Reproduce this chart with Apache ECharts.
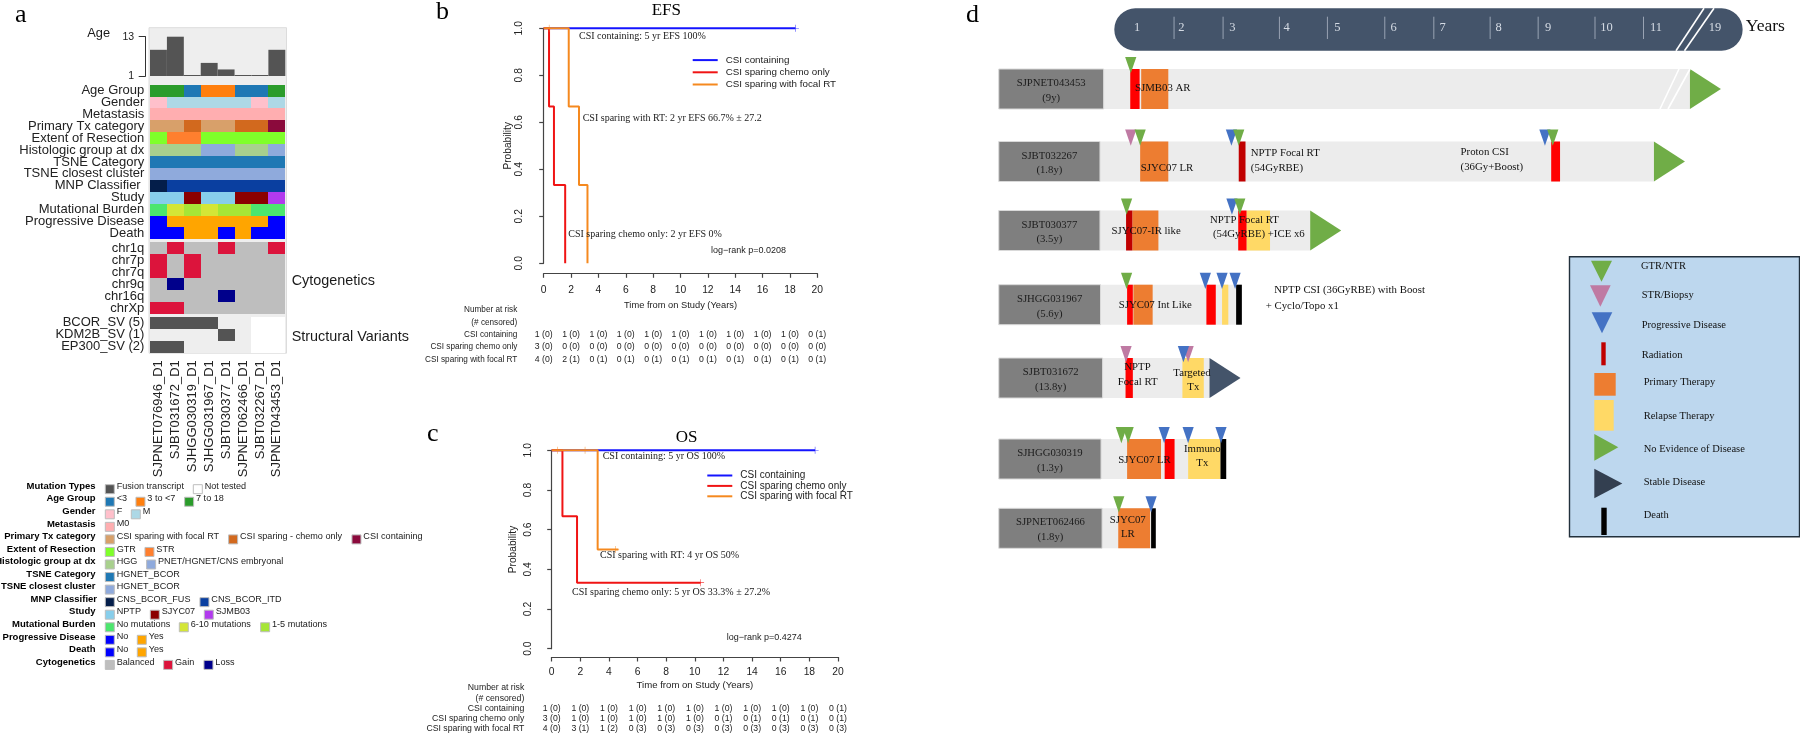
<!DOCTYPE html>
<html><head><meta charset="utf-8">
<style>html,body{margin:0;padding:0;background:#fff}#c{width:1800px;height:734px}</style>
<script src="https://cdn.jsdelivr.net/npm/echarts@6/dist/echarts.min.js"></script>
</head><body><div id="c"></div>
<script>
/* ---------- DATA : panel a ---------- */
const samples = ['SJPNET076946_D1','SJBT031672_D1','SJHGG030319_D1','SJHGG031967_D1','SJBT030377_D1','SJPNET062466_D1','SJBT032267_D1','SJPNET043453_D1'];
const ageValues = [9,13,1,5,3,1,1,9];
const clinicalRows = ['Age Group','Gender','Metastasis','Primary Tx category','Extent of Resection','Histologic group at dx','TSNE Category','TSNE closest cluster','MNP Classifier ','Study','Mutational Burden','Progressive Disease','Death'];
const ageGroup = ['7 to 18','7 to 18','<3','3 to <7','3 to <7','<3','<3','7 to 18'];
const gender = ['F','M','M','M','M','M','F','M'];
const metastasis = ['M0','M0','M0','M0','M0','M0','M0','M0'];
const primaryTx = ['CSI sparing with focal RT','CSI sparing with focal RT','CSI sparing - chemo only','CSI sparing with focal RT','CSI sparing with focal RT','CSI sparing - chemo only','CSI sparing - chemo only','CSI containing'];
const resection = ['GTR','STR','STR','GTR','GTR','GTR','GTR','GTR'];
const histology = ['HGG','HGG','HGG','PNET/HGNET/CNS embryonal','PNET/HGNET/CNS embryonal','HGG','HGG','PNET/HGNET/CNS embryonal'];
const tsneCategory = Array(8).fill('HGNET_BCOR');
const tsneCluster = Array(8).fill('HGNET_BCOR ');
const mnp = ['CNS_BCOR_FUS','CNS_BCOR_ITD','CNS_BCOR_ITD','CNS_BCOR_ITD','CNS_BCOR_ITD','CNS_BCOR_ITD','CNS_BCOR_ITD','CNS_BCOR_ITD'];
const study = ['NPTP','NPTP','SJYC07','NPTP','NPTP','SJYC07','SJYC07','SJMB03'];
const burden = ['No mutations','6-10 mutations','1-5 mutations','6-10 mutations','1-5 mutations','1-5 mutations','No mutations','No mutations'];
const progressive = ['No','Yes','Yes','Yes','Yes','Yes','Yes','No'];
const death = ['No','No','Yes','Yes','No','Yes','No','No'];
const cytoRows = ['chr1q','chr7p','chr7q','chr9q','chr16q','chrXp'];
const chr1q = ['B','G','B','B','G','B','B','G'];
const chr7p = ['G','B','G','B','B','B','B','B'];
const chr7q = ['G','B','G','B','B','B','B','B'];
const chr9q = ['B','L','B','B','B','B','B','B'];
const chr16q = ['B','B','B','B','L','B','B','B'];
const chrXp = ['G','G','B','B','B','B','B','B'];
const svRows = ['BCOR_SV (5)','KDM2B_SV (1)','EP300_SV (2)'];
const bcorSv = ['F','F','F','F','N','N','W','W'];
const kdm2bSv = ['N','N','N','N','F','N','W','W'];
const ep300Sv = ['F','F','N','N','N','N','W','W'];

/* ---------- DATA : panels b, c ---------- */
const seriesNames = ['CSI containing','CSI sparing chemo only','CSI sparing with focal RT'];
const efsContaining = [[0,1],[18.4,1]];
const efsChemo = [[0,1],[0.39,0.667],[0.75,0.333],[1.57,0]];
const efsFocal = [[0,1],[1.83,0.667],[2.58,0.333],[3.2,0]];
const efsCensorContaining = [[18.4,1]];
const efsCensorFocal = [[0.4,1]];
const osContaining = [[0,1],[18.4,1]];
const osChemo = [[0,1],[0.75,0.667],[1.77,0.333],[10.4,0.333]];
const osFocal = [[0,1],[3.21,0.5],[4.66,0.5]];
const osCensorContaining = [[18.4,1]];
const osCensorChemo = [[10.4,0.333]];
const osCensorFocal = [[0.4,1],[2.33,1],[4.47,0.5]];
const riskTicks = [0,2,4,6,8,10,12,14,16,18,20];
const riskRowNames = ['Number at risk','(# censored)','CSI containing','CSI sparing chemo only','CSI sparing with focal RT'];
const efsRisk = [
 ['1 (0)','1 (0)','1 (0)','1 (0)','1 (0)','1 (0)','1 (0)','1 (0)','1 (0)','1 (0)','0 (1)'],
 ['3 (0)','0 (0)','0 (0)','0 (0)','0 (0)','0 (0)','0 (0)','0 (0)','0 (0)','0 (0)','0 (0)'],
 ['4 (0)','2 (1)','0 (1)','0 (1)','0 (1)','0 (1)','0 (1)','0 (1)','0 (1)','0 (1)','0 (1)']];
const osRisk = [
 ['1 (0)','1 (0)','1 (0)','1 (0)','1 (0)','1 (0)','1 (0)','1 (0)','1 (0)','1 (0)','0 (1)'],
 ['3 (0)','1 (0)','1 (0)','1 (0)','1 (0)','1 (0)','0 (1)','0 (1)','0 (1)','0 (1)','0 (1)'],
 ['4 (0)','3 (1)','1 (2)','0 (3)','0 (3)','0 (3)','0 (3)','0 (3)','0 (3)','0 (3)','0 (3)']];

/* ---------- DATA : panel d (track index, years) ---------- */
const trackIds = ['SJPNET043453','SJBT032267','SJBT030377','SJHGG031967','SJBT031672','SJHGG030319','SJPNET062466'];
const trackAges = ['(9y)','(1.8y)','(3.5y)','(5.6y)','(13.8y)','(1.3y)','(1.8y)'];
const trackStarts = [-0.35,-0.42,-0.42,-0.41,-0.37,-0.40,-0.38];
const trackEnds = [10.89,10.20,3.61,2.30,1.68,2.00,0.65];
const primarySpans = [[0,0.37,0.89],[1,0.35,0.89],[2,0.20,0.70],[3,0.22,0.59],[5,0.10,0.75],[6,-0.07,0.54]];
const relapseSpans = [[2,2.39,2.84],[3,1.92,2.04],[4,1.16,1.57],[5,1.27,1.89]];
const radiationSpans = [[0,0.16,0.34],[1,8.23,8.40],[2,2.23,2.39],[3,0.10,0.21],[3,1.62,1.80],[4,0.07,0.21],[5,0.82,1.01]];
const radiationDarkSpans = [[1,2.24,2.37],[2,0.08,0.20]];
const deathSpans = [[3,2.19,2.30],[5,1.89,2.00],[6,0.56,0.65]];
const gtrMarks = [[0,0.17],[1,0.35],[1,2.24],[1,8.26],[2,0.09],[2,2.26],[3,0.09],[5,-0.01],[5,0.12],[6,-0.06]];
const strMarks = [[1,0.17],[4,0.08],[4,1.27]];
const pdMarks = [[1,2.10],[1,8.11],[2,2.11],[3,1.60],[3,1.92],[3,2.17],[4,1.18],[5,0.81],[5,1.27],[5,1.90],[6,0.56]];
const nedMarks = [[0,10.89],[1,10.20],[2,3.61]];
const stableMarks = [[4,1.68]];
const yearLabels = ['1','2','3','4','5','6','7','8','9','10','11','19'];
const yearLabelAt = [0.29,1.14,2.12,3.16,4.13,5.21,6.15,7.22,8.17,9.29,10.24,11.37];
const yearTicks = [1.00,1.94,3.02,3.94,5.04,5.98,7.06,7.98,9.07,10.00];
const timelineSpan = [-0.145,11.9];

/* ---------- STYLE / LAYOUT ---------- */
const SANS='"Liberation Sans",Arial,sans-serif', SERIF='"Liberation Serif","Times New Roman",serif';
const palette = {
 '<3':'#1f78b4','3 to <7':'#ff7f0e','7 to 18':'#2b9c2b','F':'#ffc0cb','M':'#add8e6','M0':'#ffaeb0',
 'CSI sparing with focal RT':'#d8a06a','CSI sparing - chemo only':'#d2691e','CSI containing':'#8b0a3c',
 'GTR':'#7fff2a','STR':'#ff7f2e','HGG':'#a8d08d','PNET/HGNET/CNS embryonal':'#8faadc',
 'HGNET_BCOR':'#1f78b4','HGNET_BCOR ':'#8faadc','CNS_BCOR_FUS':'#041e4a','CNS_BCOR_ITD':'#0a3fa0',
 'NPTP':'#87ceeb','SJYC07':'#8b0000','SJMB03':'#b23aee',
 'No mutations':'#4ce66e','6-10 mutations':'#d4e636','1-5 mutations':'#a6e636',
 'No':'#0000ff','Yes':'#ffa500','Balanced':'#bebebe','Gain':'#dc143c','Loss':'#00008b',
 'Fusion transcript':'#545454','Not tested':'#ffffff',
 B:'#bebebe',G:'#dc143c',L:'#00008b',F_:'#545454',N_:'#eeeeee',W_:'#ffffff'};
const svColor = {F:palette.F_,N:palette.N_,W:palette.W_};
const kmColor = ['#1414ff','#f01414','#f5891f'];
const C = {green:'#70ad47',purple:'#bf7aa3',blue:'#4472c4',red:'#ff0000',dark:'#c00000',orange:'#ed7d31',yellow:'#ffd966',slate:'#44546a',box:'#7f7f7f',track:'#ececec'};

const els=[];
function T(text,x,y,size,family,o){o=o||{};els.push({type:'text',x:x,y:y,z:o.z||60,silent:true,style:{text:text,font:(o.weight?o.weight+' ':'')+size+'px '+family,fill:o.fill||'#1a1a1a',align:o.align||'left',textAlign:o.align||'left',verticalAlign:'middle',textVerticalAlign:'middle'}});}
function R(x,y,w,h,fill,stroke,z,lw){els.push({type:'rect',z:z||1,silent:true,shape:{x:x,y:y,width:w,height:h},style:{fill:fill,stroke:stroke||null,lineWidth:lw||1}});}
function P(pts,fill,z){els.push({type:'polygon',z:z||11,silent:true,shape:{points:pts},style:{fill:fill}});}
function L(x1,y1,x2,y2,stroke,lw,z){els.push({type:'line',z:z||50,silent:true,shape:{x1,y1,x2,y2},style:{stroke:stroke,lineWidth:lw}});}

/* panel letters */
[['a',15,15],['b',436,12],['c',427,434],['d',966,15]].forEach(a=>T(a[0],a[1],a[2],26,SERIF,{fill:'#000'}));

/* panel a frame & texts */
R(149,27.7,137.5,325.5,'#eeeeee','#dcdcdc',0);
T('Age',110,33.5,12.8,SANS,{align:'right'});
T('Cytogenetics',291.7,280.7,14.4,SANS);
T('Structural Variants',291.7,336.7,14.4,SANS);

/* panel a legend */
const legendA=[
 ['Mutation Types',[['Fusion transcript',0],['Not tested',264]]],
 ['Age Group',[['<3',0],['3 to <7',92],['7 to 18',238]]],
 ['Gender',[['F',0],['M',78]]],
 ['Metastasis',[['M0',0]]],
 ['Primary Tx category',[['CSI sparing with focal RT',0],['CSI sparing - chemo only',370],['CSI containing',740]]],
 ['Extent of Resection',[['GTR',0],['STR',119]]],
 ['Histologic group at dx',[['HGG',0],['PNET/HGNET/CNS embryonal',124]]],
 ['TSNE Category',[['HGNET_BCOR',0]]],
 ['TSNE closest cluster',[['HGNET_BCOR ',0]]],
 ['MNP Classifier',[['CNS_BCOR_FUS',0],['CNS_BCOR_ITD',284]]],
 ['Study',[['NPTP',0],['SJYC07',135],['SJMB03',297]]],
 ['Mutational Burden',[['No mutations',0],['6-10 mutations',222],['1-5 mutations',466]]],
 ['Progressive Disease',[['No',0],['Yes',96]]],
 ['Death',[['No',0],['Yes',96]]],
 ['Cytogenetics',[['Balanced',0],['Gain',175],['Loss',296]]]];
legendA.forEach((row,i)=>{
  const y=486.3+i*12.55;
  T(row[0],row[0]==='MNP Classifier'?97:95.5,y,9.5,SANS,{align:'right',weight:'bold',fill:'#000'});
  row[1].forEach(it=>{
    const sx=105.3+it[1]/3;
    R(sx,y-1.6,9,9,palette[it[0]],'#bdbdbd',3,1);
    T(it[0].trim(),sx+11.4,y,9.1,SANS,{fill:'#222'});
  });
});

/* KM annotations */
T('EFS',666.3,11,17,SERIF,{align:'center',fill:'#000'});
T('CSI containing: 5 yr EFS 100%',579,36,10,SERIF);
T('CSI sparing with RT: 2 yr EFS 66.7% ± 27.2',582.7,118.7,10,SERIF);
T('CSI sparing chemo only: 2 yr EFS 0%',568.3,234,10,SERIF);
T('log−rank p=0.0208',711,251,9,SANS,{fill:'#222'});
T('OS',686.7,437.5,17,SERIF,{align:'center',fill:'#000'});
T('CSI containing: 5 yr OS 100%',602.7,456.3,10,SERIF);
T('CSI sparing with RT: 4 yr OS 50%',600,555.3,10,SERIF);
T('CSI sparing chemo only: 5 yr OS 33.3% ± 27.2%',572,592.7,10,SERIF);
T('log−rank p=0.4274',726.7,638,9,SANS,{fill:'#222'});

/* panel d annotations */
T('Years',1745.7,26,17.6,SERIF,{fill:'#111'});
[[1676,50.7,1704,8.3],[1684.5,50.7,1714,8.3],[1660,109,1679,69],[1668,109,1690,69]].forEach(s=>L(s[0],s[1],s[2],s[3],'#ffffff',1.6,30));
[['SJMB03 AR',1135,88],['SJYC07 LR',1140.8,167.7],['NPTP Focal RT',1250.8,152.7],['(54GyRBE)',1250.8,168],['Proton CSI',1460.6,152],['(36Gy+Boost)',1460.6,166.7],
 ['SJYC07-IR like',1111.5,231],['NPTP Focal RT',1210,220],['(54GyRBE) +ICE x6',1212.9,234.3],
 ['SJYC07 Int Like',1118.7,305],['NPTP CSI (36GyRBE) with Boost',1274.3,290],['+ Cyclo/Topo x1',1265.7,305.7],
 ['NPTP',1124.3,367.3],['Focal RT',1117.7,381.7],['Targeted',1173.3,373.3],['Tx',1187.3,387.3],
 ['SJYC07 LR',1118.3,460],['Immuno',1184,449.3],['Tx',1196.3,463.3],
 ['SJYC07',1109.7,519.7],['LR',1121,534]
].forEach(t=>T(t[0],t[1],t[2],10.8,SERIF,{fill:'#111'}));

/* panel d legend */
R(1569.5,256.7,230,280,'#bdd7ee','#22303c',5,1.4);
const downTri=(x1,x2,y1,y2,c)=>P([[x1,y1],[x2,y1],[(x1+x2)/2,y2]],c);
const rightTri=(x1,x2,y1,y2,c)=>P([[x1,y1],[x2,(y1+y2)/2],[x1,y2]],c);
downTri(1591,1612,260.7,281.7,C.green);
downTri(1590,1610.7,285.3,306.7,C.purple);
downTri(1591.7,1612.3,312.3,333.3,C.blue);
R(1601.3,342.3,4.4,23,'#c00000',null,11);
R(1594.3,373,21.4,22.7,C.orange,null,11);
R(1594.3,400,19.4,30.7,C.yellow,null,11);
rightTri(1594.3,1618.3,434,460.7,C.green);
rightTri(1594.3,1622.3,468.7,498.3,'#333f50');
R(1601.3,507.7,5.4,27.3,'#000',null,11);
[['GTR/NTR',1641,266.7],['STR/Biopsy',1641.7,295],['Progressive Disease',1641.7,325],['Radiation',1641.7,355.3],['Primary Therapy',1643.7,382.7],['Relapse Therapy',1643.7,416],['No Evidence of Disease',1643.7,449],['Stable Disease',1643.7,482.7],['Death',1643.7,515.7]]
 .forEach(t=>T(t[0],t[1],t[2],10.5,SERIF,{fill:'#111'}));

/* ---------- AXES / SERIES ---------- */
const grid=[], xAxis=[], yAxis=[], series=[];
function cellSeries(g,rows,colorOf){
  const data=[],colors=[];
  rows.forEach((row,r)=>row.forEach((v,c)=>{data.push([c,r]);colors.push(colorOf(v));}));
  series.push({type:'custom',xAxisIndex:g,yAxisIndex:g,data:data,encode:{x:0,y:1},clip:false,silent:true,z:3,
    renderItem:(p,api)=>{
      const a=api.coord([api.value(0),api.value(1)]), s=api.size([1,1]);
      const x1=Math.round(a[0]-s[0]/2),x2=Math.round(a[0]+s[0]/2),y1=Math.round(a[1]-s[1]/2),y2=Math.round(a[1]+s[1]/2);
      return {type:'rect',shape:{x:x1,y:y1,width:x2-x1,height:y2-y1},style:{fill:colors[p.dataIndex]}};
    }});
}
function heatAxes(top,height,rows,showX){
  grid.push({left:150,width:135.3,top:top,height:height});
  xAxis.push({type:'category',gridIndex:grid.length-1,data:samples,position:'bottom',show:!!showX,axisLine:{show:false},axisTick:{show:false},
    axisLabel:{show:!!showX,rotate:90,interval:0,margin:7.5,fontFamily:SANS,fontSize:13,color:'#222'}});
  yAxis.push({type:'category',gridIndex:grid.length-1,data:rows,inverse:true,axisLine:{show:false},axisTick:{show:false},
    axisLabel:{interval:0,margin:5.7,fontFamily:SANS,fontSize:13,color:'#222'}});
}
/* grid 0: Age */
grid.push({left:150,width:135.3,top:36.7,height:39.3});
xAxis.push({type:'category',gridIndex:0,data:samples,show:false});
yAxis.push({type:'value',gridIndex:0,min:1,max:13,offset:4.3,splitLine:{show:false},
  axisLine:{show:true,lineStyle:{color:'#333',width:1}},
  axisTick:{show:true,length:7,customValues:[1,13],lineStyle:{color:'#333'}},
  axisLabel:{customValues:[1,13],margin:11.5,fontFamily:SANS,fontSize:10.5,color:'#222'}});
series.push({type:'custom',xAxisIndex:0,yAxisIndex:0,data:ageValues.map((v,i)=>[i,v]),encode:{x:0,y:1},clip:false,silent:true,z:3,
  renderItem:(p,api)=>{
    const top=api.coord([api.value(0),api.value(1)]), base=api.coord([api.value(0),1]), w=api.size([1,1])[0];
    const h=Math.max(base[1]-top[1],1);
    return {type:'rect',shape:{x:top[0]-w/2,y:base[1]-h,width:w,height:h},style:{fill:'#545454'}};
  }});
/* grids 1-3 */
heatAxes(84.7,154.6,clinicalRows);
cellSeries(1,[ageGroup,gender,metastasis,primaryTx,resection,histology,tsneCategory,tsneCluster,mnp,study,burden,progressive,death],v=>palette[v]);
heatAxes(242.3,71.6,cytoRows);
cellSeries(2,[chr1q,chr7p,chr7q,chr9q,chr16q,chrXp],v=>palette[v]);
heatAxes(316.7,36,svRows,true);
cellSeries(3,[bcorSv,kdm2bSv,ep300Sv],v=>svColor[v]);

const plus='path://M4.6 0H5.4V4.6H10V5.4H5.4V10H4.6V5.4H0V4.6H4.6Z';
function km(cfg){
  const g=grid.length;
  grid.push({left:cfg.left,width:cfg.width,top:cfg.top,height:cfg.height});
  xAxis.push({type:'value',gridIndex:g,min:0,max:20,interval:2,offset:cfg.xOff,splitLine:{show:false},
    axisLine:{show:true,onZero:false,lineStyle:{color:'#444',width:1.2}},axisTick:{show:true,length:4.5,lineStyle:{color:'#444',width:1.2}},
    axisLabel:{margin:cfg.xMargin,fontFamily:SANS,fontSize:10.3,color:'#222',showMinLabel:true,showMaxLabel:true,hideOverlap:false},
    name:'Time from on Study (Years)',nameLocation:'middle',nameGap:cfg.nameGapX,nameMoveOverlap:false,nameTextStyle:{fontFamily:SANS,fontSize:cfg.nameSize,color:'#222'}});
  yAxis.push({type:'value',gridIndex:g,min:0,max:1,interval:0.2,offset:cfg.yOff,splitLine:{show:false},
    axisLine:{show:true,lineStyle:{color:'#444',width:1.2}},axisTick:{show:true,length:4.5,lineStyle:{color:'#444',width:1.2}},
    axisLabel:{rotate:90,margin:cfg.yMargin,fontFamily:SANS,fontSize:10.3,color:'#222',formatter:v=>v.toFixed(1),showMinLabel:true,showMaxLabel:true},
    name:'Probability',nameLocation:'middle',nameGap:cfg.nameGapY,nameMoveOverlap:false,nameRotate:90,nameTextStyle:{fontFamily:SANS,fontSize:10.2,color:'#222'}});
  cfg.curves.forEach((d,i)=>series.push({type:'line',name:seriesNames[i],xAxisIndex:g,yAxisIndex:g,data:d,step:'end',showSymbol:false,silent:true,clip:false,z:3+i,
    lineStyle:{color:kmColor[i],width:2},itemStyle:{color:kmColor[i]}}));
  cfg.censors.forEach((d,i)=>{ if(d.length) series.push({type:'scatter',xAxisIndex:g,yAxisIndex:g,data:d,symbol:plus,symbolSize:7,silent:true,clip:false,z:7,itemStyle:{color:kmColor[i]}});});
  /* risk table */
  const r=g+1, d=[], txt=[];
  cfg.risk.forEach((row,ri)=>row.forEach((s,ti)=>{d.push([riskTicks[ti],ri+2]);txt.push(s);}));
  grid.push({left:cfg.left,width:cfg.width,top:cfg.riskTop,height:cfg.riskH});
  xAxis.push({type:'value',gridIndex:r,min:0,max:20,show:false});
  yAxis.push({type:'category',gridIndex:r,data:riskRowNames,inverse:true,axisLine:{show:false},axisTick:{show:false},
    axisLabel:{interval:0,margin:cfg.riskMargin,fontFamily:SANS,fontSize:cfg.riskNameSize,color:'#222'}});
  series.push({type:'custom',xAxisIndex:r,yAxisIndex:r,data:d,encode:{x:0,y:1},clip:false,silent:true,
    renderItem:(p,api)=>{const a=api.coord([api.value(0),api.value(1)]);
      return {type:'text',x:a[0],y:a[1],style:{text:txt[p.dataIndex],font:'8.7px '+SANS,fill:'#222',align:'center',textAlign:'center',verticalAlign:'middle',textVerticalAlign:'middle'}};}});
}
km({left:543.7,width:273.6,top:28.3,height:235,xOff:10,yOff:10.7,xMargin:12,yMargin:9,nameGapX:27.5,nameGapY:20,nameSize:9.3,
  curves:[efsContaining,efsChemo,efsFocal],censors:[efsCensorContaining,[],efsCensorFocal],risk:efsRisk,
  riskTop:303.8,riskH:61.75,riskMargin:26.4,riskNameSize:8.2});
km({left:551.7,width:286.3,top:450.3,height:198.4,xOff:8.3,yOff:11.4,xMargin:10,yMargin:7.5,nameGapX:23.5,nameGapY:22,nameSize:9.6,
  curves:[osContaining,osChemo,osFocal],censors:[osCensorContaining,osCensorChemo,osCensorFocal],risk:osRisk,
  riskTop:682.8,riskH:52,riskMargin:27.4,riskNameSize:8.7});

/* grid 8: patient swimmer plot. x = years on the timeline, y = vertical track position */
const D=grid.length;
const trackY=[89,161.5,230.5,304.7,378,459,528.3];
const HALF=20, BOX_LEFT=-2.36;
grid.push({left:965.4,width:838.4,top:0,height:734});
xAxis.push({type:'value',gridIndex:D,min:-3,max:13,show:false});
yAxis.push({type:'value',gridIndex:D,min:0,max:734,inverse:true,show:false});
const common={xAxisIndex:D,yAxisIndex:D,clip:false,silent:true};
/* timeline */
series.push(Object.assign({},common,{type:'custom',z:2,data:[[timelineSpan[0],8.3,timelineSpan[1],50.7]],
  renderItem:(p,api)=>{const a=api.coord([api.value(0),api.value(1)]),b=api.coord([api.value(2),api.value(3)]);
    return {type:'rect',shape:{x:a[0],y:a[1],width:b[0]-a[0],height:b[1]-a[1],r:21},style:{fill:C.slate}};}}));
series.push(Object.assign({},common,{type:'custom',z:3,data:yearTicks.map(v=>[v]),
  renderItem:(p,api)=>{const a=api.coord([api.value(0),16.7]),b=api.coord([api.value(0),39]);
    return {type:'line',shape:{x1:a[0],y1:a[1],x2:b[0],y2:b[1]},style:{stroke:'#aeb8c6',lineWidth:0.8}};}}));
series.push(Object.assign({},common,{type:'custom',z:4,data:yearLabelAt.map(v=>[v]),
  renderItem:(p,api)=>{const a=api.coord([api.value(0),28]);
    return {type:'text',x:a[0],y:a[1],style:{text:yearLabels[p.dataIndex],font:'12.5px '+SERIF,fill:'#d5dbe4',align:'center',textAlign:'center',verticalAlign:'middle',textVerticalAlign:'middle'}};}}));
/* tracks */
series.push(Object.assign({},common,{type:'custom',z:3,data:trackStarts.map((s,i)=>[s,trackEnds[i],i]),
  renderItem:(p,api)=>{const i=api.value(2),cy=trackY[i],a=api.coord([api.value(0),cy-HALF]),b=api.coord([api.value(1),cy+HALF]),l=api.coord([BOX_LEFT,cy]);
    return {type:'group',children:[
      {type:'rect',shape:{x:a[0],y:a[1],width:b[0]-a[0],height:b[1]-a[1]},style:{fill:C.track}},
      {type:'rect',shape:{x:l[0],y:a[1],width:a[0]-l[0],height:b[1]-a[1]},style:{fill:C.box,stroke:'#d9d9d9',lineWidth:1}},
      {type:'text',x:(l[0]+a[0])/2,y:cy-5.7,style:{text:trackIds[i],font:'10.7px '+SERIF,fill:'#1c1c1c',align:'center',textAlign:'center',verticalAlign:'middle',textVerticalAlign:'middle'}},
      {type:'text',x:(l[0]+a[0])/2,y:cy+9,style:{text:trackAges[i],font:'10.7px '+SERIF,fill:'#1c1c1c',align:'center',textAlign:'center',verticalAlign:'middle',textVerticalAlign:'middle'}}
    ]};}}));
function spans(data,color,z){
  series.push(Object.assign({},common,{type:'custom',z:z,data:data,
    renderItem:(p,api)=>{const cy=trackY[api.value(0)],a=api.coord([api.value(1),cy-HALF]),b=api.coord([api.value(2),cy+HALF]);
      return {type:'rect',shape:{x:a[0],y:a[1],width:b[0]-a[0],height:b[1]-a[1]},style:{fill:color}};}}));
}
spans(primarySpans,C.orange,4);
spans(relapseSpans,C.yellow,4);
spans(radiationSpans,C.red,5);
spans(radiationDarkSpans,C.dark,5);
spans(deathSpans,'#000000',5);
function endMarks(data,color){
  series.push(Object.assign({},common,{type:'custom',z:6,data:data,
    renderItem:(p,api)=>{const cy=trackY[api.value(0)],a=api.coord([api.value(1),cy]);
      return {type:'polygon',shape:{points:[[a[0],cy-HALF],[a[0]+31,cy],[a[0],cy+HALF]]},style:{fill:color}};}}));
}
endMarks(nedMarks,C.green);
endMarks(stableMarks,C.slate);
function downMarks(data,color,z){
  series.push(Object.assign({},common,{type:'custom',z:z,data:data,
    renderItem:(p,api)=>{const cy=trackY[api.value(0)],a=api.coord([api.value(1),cy]);
      return {type:'polygon',shape:{points:[[a[0]-5.6,cy-32],[a[0]+5.6,cy-32],[a[0],cy-15.8]]},style:{fill:color}};}}));
}
downMarks(strMarks,C.purple,7);
downMarks(pdMarks,C.blue,8);
downMarks(gtrMarks,C.green,9);

const legendBase={orient:'vertical',icon:'rect',itemWidth:25,itemHeight:2,data:seriesNames,selectedMode:false};
const option={animation:false,backgroundColor:'#fff',grid,xAxis,yAxis,series,
  legend:[
   Object.assign({},legendBase,{left:692.7,top:54.5,padding:0,itemGap:1,textStyle:{fontFamily:SANS,fontSize:9.8,color:'#222',padding:[0,0,0,3],lineHeight:11.2}}),
   Object.assign({},legendBase,{left:707.3,top:470,padding:0,itemGap:-0.6,textStyle:{fontFamily:SANS,fontSize:10,color:'#222',padding:[0,0,0,3],lineHeight:11}})
  ],
  graphic:{elements:els}};
const chart=echarts.init(document.getElementById('c'),null,{renderer:'canvas'});
chart.setOption(option);
</script></body></html>
